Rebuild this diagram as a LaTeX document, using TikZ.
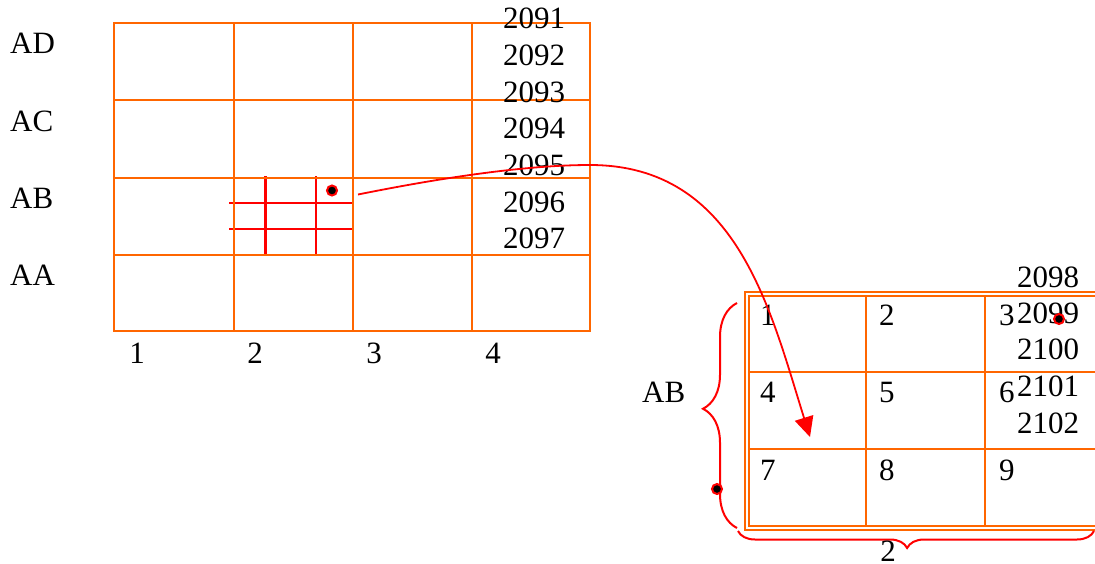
\documentclass[tikz,border=0pt]{standalone}
\usepackage{fontspec}
\setmainfont{Liberation Serif}
\usetikzlibrary{arrows.meta,decorations.pathreplacing}
\definecolor{orng}{RGB}{255,102,0}
\begin{document}
\begin{tikzpicture}[x=1pt,y=-1pt,
  og/.style={draw=orng,line width=2.2pt},
  rd/.style={draw=red,line width=2.2pt},
  lbl/.style={inner sep=0pt,anchor=base west,font=\fontsize{31}{37}\selectfont},
  clbl/.style={inner sep=0pt,anchor=base,font=\fontsize{31}{37}\selectfont},
  pt/.style={circle,fill=black,draw=red,line width=2pt,inner sep=0pt,minimum size=10pt},
  brc/.style={draw=red,line width=2pt,decorate}]
\useasboundingbox (0,0) rectangle (1095,563);
\clip (0,0) rectangle (1095,563);
% left grid: red sub grid
\draw[rd] (265.5,176) -- (265.5,255) (316,176) -- (316,255)
          (229,203) -- (352,203) (229,229) -- (352,229);
% left grid: orange
\draw[og] (114,23) rectangle (590,331);
\draw[og] (234,23) -- (234,331) (353,23) -- (353,331) (472,23) -- (472,331)
          (114,100) -- (590,100) (114,178) -- (590,178) (114,255) -- (590,255);
\node[pt] (dotA) at (332,190.5) {};
% row labels
\node[lbl] (lAD) at (10,53) {AD};
\node[lbl] (lAC) at (10,131) {AC};
\node[lbl] (lAB) at (10,208) {AB};
\node[lbl] (lAA) at (10,285) {AA};
% column labels
\node[clbl] (c1) at (137,363) {1};
\node[clbl] (c2) at (255,363) {2};
\node[clbl] (c3) at (374,363) {3};
\node[clbl] (c4) at (493,363) {4};
% numbers left
\foreach \n/\y in {2091/28,2092/65,2093/102,2094/138,2095/175,2096/212,2097/248}
  \node[lbl] (n\n) at (503,\y) {\n};
% right grid
\draw[og,line width=1.7pt] (745,292) rectangle (1115,530);
\draw[og,line width=1.7pt] (749,296) rectangle (1111,526);
\draw[og] (866,296) -- (866,526) (985,296) -- (985,526)
          (749,372) -- (1111,372) (749,449) -- (1111,449);
\foreach \t/\x/\y in {1/760/325,2/879/325,3/999/325,4/760/402,5/879/402,6/999/402,7/760/480,8/879/480,9/999/480}
  \node[lbl] (g\t) at (\x,\y) {\t};
\foreach \n/\y in {2098/287,2099/323,2100/359,2101/396,2102/433}
  \node[lbl] (n\n) at (1017,\y) {\n};
\node[pt] (dotB) at (1059,319) {};
% braces
\draw[brc,decoration={brace,amplitude=34pt,aspect=0.53}] (737,528) -- (737,303);
\draw[brc,decoration={brace,amplitude=17pt,aspect=0.525}] (1094,531) -- (738,531);
\node[pt] (dotC) at (717,489) {};
\node[lbl] (rAB) at (642,402) {AB};
\node[clbl] (b2) at (888,561) {2};
% arrow
\coordinate (aS) at (358,194.5);
\coordinate (aP) at (590,165);
\coordinate (aE) at (810,437);
\draw[red,line width=1.8pt,-{Triangle[length=20pt,width=19pt]}]
  (aS) .. controls (450,176) and (530,165) .. (aP)
       .. controls (737,165) and (770,309) .. (aE);
\end{tikzpicture}
\end{document}
